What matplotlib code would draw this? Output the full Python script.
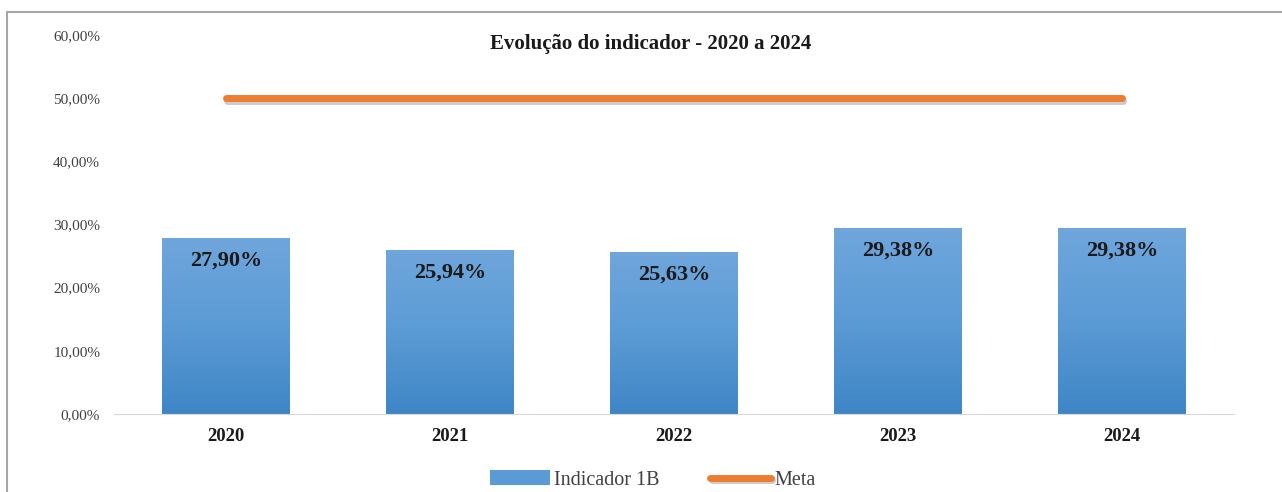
import numpy as np
import matplotlib.pyplot as plt
import matplotlib.patheffects as pe
from matplotlib.patches import Rectangle
from matplotlib.colors import LinearSegmentedColormap

anos = ['2020', '2021', '2022', '2023', '2024']
indicador = [27.90, 25.94, 25.63, 29.38, 29.38]
meta = [50, 50, 50, 50, 50]
rotulos = ['27,90%', '25,94%', '25,63%', '29,38%', '29,38%']
y_ticks = [0, 10, 20, 30, 40, 50, 60]

plt.rcParams['font.family'] = ['Liberation Serif', 'DejaVu Serif']

fig = plt.figure(figsize=(12.82, 4.92), dpi=100)
ax = fig.add_axes([0.089, 0.1585, 0.8736, 0.7704])

# moldura cinza da figura
fig.patches.append(Rectangle((7 / 1282, -0.1), 1.2, 1.1 - 12 / 492 + 0.0005,
                             transform=fig.transFigure, fill=False,
                             edgecolor='#a6a6a6', linewidth=1.5))

x = np.arange(len(anos))
barras = ax.bar(x, indicador, width=0.57, color='#5b9bd5', zorder=2,
                label='Indicador 1B')

# gradiente nas barras
cmap = LinearSegmentedColormap.from_list('azul', ['#3f85c6', '#5b9bd5', '#6fa6dc'])
grad = np.linspace(0, 1, 256).reshape(-1, 1)
for b in barras:
    x0, y0 = b.get_x(), b.get_y()
    w, h = b.get_width(), b.get_height()
    im = ax.imshow(grad, extent=(x0, x0 + w, y0, y0 + h), origin='lower',
                   cmap=cmap, aspect='auto', zorder=2.1)
    im.set_clip_path(b)

for xi, v, r in zip(x, indicador, rotulos):
    ax.text(xi, v - 2.0, r, ha='center', va='top', fontsize=16,
            fontweight='bold', color='#1a1a1a', zorder=4)

ax.plot(x, meta, color='#ed7d31', linewidth=5, solid_capstyle='round',
        zorder=3, label='Meta',
        path_effects=[pe.SimpleLineShadow(offset=(1, -2), alpha=0.2),
                      pe.Normal()])

ax.set_xlim(-0.5, len(anos) - 0.5)
ax.set_ylim(0, 60)
ax.set_yticks(y_ticks)
ax.set_yticklabels([f'{t},00%' for t in y_ticks], fontsize=11, color='#404040')
ax.set_xticks(x)
ax.set_xticklabels(anos, fontsize=13.5, fontweight='bold', color='#1a1a1a')
ax.tick_params(axis='y', length=0, pad=10)
ax.tick_params(axis='x', length=0, pad=10)
for s in ['top', 'right', 'left']:
    ax.spines[s].set_visible(False)
ax.spines['bottom'].set_color('#d9d9d9')
fig.text(651 / 1282, 1 - 44 / 492, 'Evolução do indicador - 2020 a 2024',
         fontsize=15, fontweight='bold', color='#1a1a1a',
         ha='center', va='center')

h, l = ax.get_legend_handles_labels()
fig.legend([h[1], h[0]], [l[1], l[0]], loc='center',
           bbox_to_anchor=(653 / 1282, 1 - 480 / 492), ncol=2,
           frameon=False, fontsize=14.5, handlelength=3, columnspacing=2.5,
           handletextpad=0.2, labelcolor='#404040')

fig.savefig('out.png', dpi=100)
